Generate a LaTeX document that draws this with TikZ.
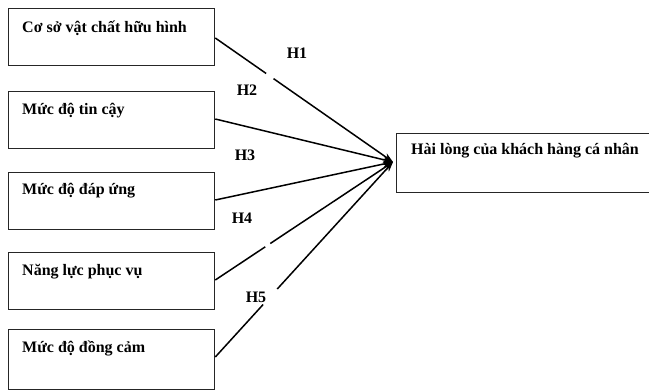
\documentclass[tikz,border=0pt]{standalone}
\usepackage{fontspec}
\setmainfont{Liberation Serif}
\usetikzlibrary{calc,arrows.meta}
\begin{document}
\begin{tikzpicture}[x=1pt,y=-1pt,
  box/.style={draw=black!85,line width=1.3pt,minimum width=206pt,minimum height=57pt,inner sep=0pt,anchor=north west},
  rbox/.style={draw=black!85,line width=1.3pt,minimum width=253pt,minimum height=59pt,inner sep=0pt,anchor=north west},
  txt/.style={font=\bfseries\fontsize{16}{18}\selectfont,anchor=west,inner sep=0pt},
  hl/.style={font=\bfseries\fontsize{16}{18}\selectfont,inner sep=0pt},
  link/.style={line width=1.5pt,-{Stealth[length=10pt,width=7pt]}}]
\useasboundingbox (0,0) rectangle (649,391);
\node[box] (b1) at (8,8) {};
\node[box] (b2) at (8,91) {};
\node[box] (b3) at (8,172) {};
\node[box] (b4) at (8,252) {};
\node[box,minimum height=60pt] (b5) at (8,329) {};
\node[rbox] (r) at (396,133) {};
\node[txt] (t1) at ($(b1.north west)+(14,20)$) {Cơ sở vật chất hữu hình};
\node[txt] (t2) at ($(b2.north west)+(14,20)$) {Mức độ tin cậy};
\node[txt] (t3) at ($(b3.north west)+(14,19)$) {Mức độ đáp ứng};
\node[txt] (t4) at ($(b4.north west)+(14,20)$) {Năng lực phục vụ};
\node[txt] (t5) at ($(b5.north west)+(14,19)$) {Mức độ đồng cảm};
\node[txt] (tr) at ($(r.north west)+(15,18)$) {Hài lòng của khách hàng cá nhân};
\coordinate (tip) at (393,162);
\draw[link,dash pattern=on 62pt off 9pt on 400pt off 10pt] ($(b1.north east)+(0,30)$) -- (tip);
\draw[link] ($(b2.north east)+(0,28)$) -- (tip);
\draw[link] ($(b3.north east)+(0,28)$) -- (tip);
\draw[link,dash pattern=on 60pt off 6pt on 400pt off 10pt] ($(b4.north east)+(0,28)$) -- (tip);
\draw[link,dash pattern=on 71pt off 21pt on 400pt off 10pt] ($(b5.north east)+(0,28)$) -- (tip);
\node[hl] (h1) at (297,53) {H1};
\node[hl] (h2) at (247,90) {H2};
\node[hl] (h3) at (245,155) {H3};
\node[hl] (h4) at (242,218) {H4};
\node[hl] (h5) at (256,297) {H5};
\end{tikzpicture}
\end{document}
